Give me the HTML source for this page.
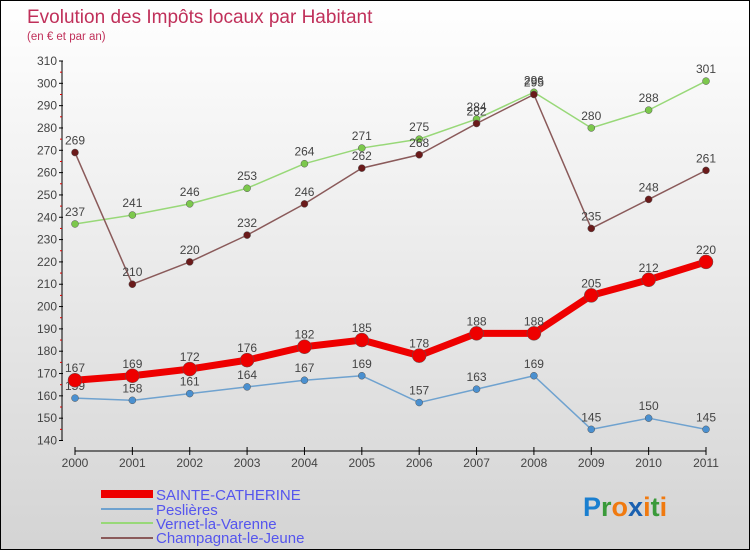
<!DOCTYPE html>
<html><head><meta charset="utf-8"><style>
body{margin:0}
#c{position:relative;width:748px;height:548px;border:1px solid #000;background:linear-gradient(#fff,#d4d4d4);font-family:"Liberation Sans",sans-serif;overflow:hidden}
</style></head><body>
<div id="c">
<svg id="s" width="748" height="548" xmlns="http://www.w3.org/2000/svg" font-family="Liberation Sans, sans-serif">
<text x="26" y="22" font-size="19" fill="#c0305a">Evolution des Impôts locaux par Habitant</text>
<text x="26" y="39" font-size="11.5" fill="#c0305a">(en € et par an)</text>
<g id="axes"></g><g id="series"></g>
<g>
<rect x="100" y="489" width="52" height="8" fill="#e00"/>
<line x1="100" y1="508" x2="152" y2="508" stroke="#6fa2cf" stroke-width="2"/>
<line x1="100" y1="522" x2="152" y2="522" stroke="#98d878" stroke-width="2"/>
<line x1="100" y1="537" x2="152" y2="537" stroke="#8a5a5a" stroke-width="2"/>
<g font-size="15" fill="#5555ee">
<text x="155" y="499">SAINTE-CATHERINE</text>
<text x="155" y="514">Peslières</text>
<text x="155" y="528">Vernet-la-Varenne</text>
<text x="155" y="542">Champagnat-le-Jeune</text>
</g></g>
<text x="582" y="515" font-size="27" font-weight="bold"><tspan fill="#1a7fd0">P</tspan><tspan fill="#3a9a3a">r</tspan><tspan fill="#f07a10">o</tspan><tspan fill="#1a60b0">x</tspan><tspan fill="#f07a10">i</tspan><tspan fill="#3a9a3a">t</tspan><tspan fill="#f07a10">i</tspan></text>
</svg></div>
<script>
const years=[2000,2001,2002,2003,2004,2005,2006,2007,2008,2009,2010,2011];
const yTicks=[140,150,160,170,180,190,200,210,220,230,240,250,260,270,280,290,300,310];
const sainteCatherine=[167,169,172,176,182,185,178,188,188,205,212,220];
const peslieres=[159,158,161,164,167,169,157,163,169,145,150,145];
const vernet=[237,241,246,253,264,271,275,284,296,280,288,301];
const champagnat=[269,210,220,232,246,262,268,282,295,235,248,261];
const NS='http://www.w3.org/2000/svg';
const X0=74,X1=705,Y0=439.5,Y1=60,VMIN=140,VMAX=310;
function xs(i){return X0+(X1-X0)*i/(years.length-1);}
function ys(v){return Y0-(v-VMIN)/(VMAX-VMIN)*(Y0-Y1);}
function mk(tag,at,parent){const e=document.createElementNS(NS,tag);for(const k in at)e.setAttribute(k,at[k]);parent.appendChild(e);return e;}
const ax=document.getElementById('axes');
let yl=mk('line',{x1:61,y1:Y1,x2:61,y2:Y0,stroke:'#000'},ax);


yTicks.forEach((t,i)=>{const y=ys(t);
 mk('line',{x1:58,y1:y,x2:62,y2:y,stroke:'#000'},ax);
 if(i<yTicks.length-1)mk('line',{x1:59,y1:ys(t+5),x2:61,y2:ys(t+5),stroke:'#d00'},ax);
 const tx=mk('text',{x:56,y:y+4,'font-size':12,fill:'#444','text-anchor':'end'},ax);tx.textContent=t;
 
 });
let xl=mk('line',{x1:X0,y1:450,x2:X1,y2:450,stroke:'#000'},ax);


years.forEach((yr,i)=>{const x=xs(i);mk('line',{x1:x,y1:446,x2:x,y2:454,stroke:'#000'},ax);
 const tx=mk('text',{x:x,y:466,'font-size':12,fill:'#444','text-anchor':'middle'},ax);tx.textContent=yr;
 
 });
const sg=document.getElementById('series');
function draw(vals,color,dot,w,r,name){
 const g=mk('g',{},sg);
 
 
 mk('polyline',{points:vals.map((v,i)=>xs(i)+','+ys(v)).join(' '),fill:'none',stroke:color,'stroke-width':w,'stroke-linejoin':'round'},g);
 vals.forEach((v,i)=>{const c=mk('circle',{cx:xs(i),cy:ys(v),r:r,fill:dot,stroke:'#555','stroke-width':0.5},g);
  
  
  const t=mk('text',{x:xs(i),y:ys(v)-8,'font-size':12,fill:'#444','text-anchor':'middle'},g);t.textContent=v;
  
  });
}
draw(peslieres,'#6fa2cf','#4a90d0',1.5,3.5,'series-peslieres');
draw(vernet,'#98d878','#7cc84c',1.5,3.5,'series-vernet');
draw(champagnat,'#8a5a5a','#6a1a1a',1.5,3.5,'series-champagnat');
draw(sainteCatherine,'#e00','#e00',7,7,'series-sainte-catherine');
</script>
</body></html>
